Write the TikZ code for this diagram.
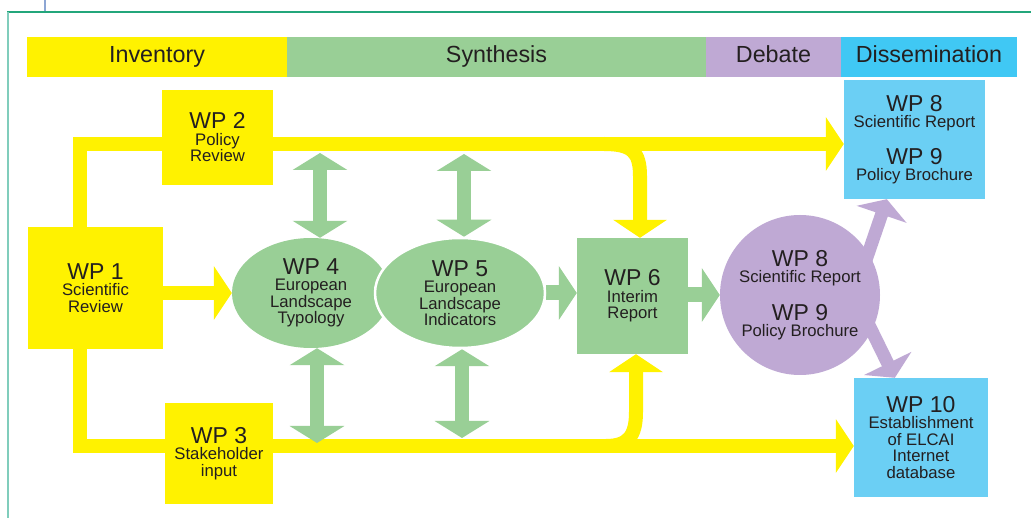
\documentclass[tikz,border=0pt]{standalone}
\usepackage{fontspec}
\setmainfont{Liberation Sans}
\usetikzlibrary{arrows.meta,shapes.geometric,calc}
\definecolor{wpyellow}{HTML}{FFF200}
\definecolor{wpgreen}{HTML}{99CF96}
\definecolor{wppurple}{HTML}{BFA9D4}
\definecolor{hdrblue}{HTML}{40C8F4}
\definecolor{boxblue}{HTML}{6BCFF4}
\definecolor{txt}{HTML}{231F20}
\definecolor{frameteal}{HTML}{23A67B}
\definecolor{framelight}{HTML}{80CDBC}
\definecolor{frameblue}{HTML}{8DA6D4}
\pgfdeclarelayer{bg}
\pgfsetlayers{bg,main}
\newcommand\wpbig[1]{{\fontsize{23}{23}\selectfont #1}}
\tikzset{
  hdr/.style={rectangle, minimum height=40pt, inner sep=0pt, text height=16.5pt, text depth=5pt, text=txt, font=\fontsize{23.3}{24}\selectfont},
  wpbox/.style={rectangle, inner sep=0pt, align=center, text=txt, font=\fontsize{16.7}{16.5}\selectfont},
  wpell/.style={ellipse, inner sep=0pt, align=center, text=txt, fill=wpgreen, font=\fontsize{16.7}{16.5}\selectfont},
  ytip/.style={-{Triangle[width=53pt,length=18pt]}},
  yarrow/.style={draw=wpyellow, line width=14pt, line join=miter, ytip},
  garrow/.style={draw=wpgreen, line width=15pt, -{Triangle[width=53pt,length=18pt]}},
  gdouble/.style={draw=wpgreen, line width=14pt, {Triangle[width=54pt,length=17pt]}-{Triangle[width=54pt,length=17pt]}},
  parrow/.style={draw=wppurple, line width=13pt, -{Triangle[width=52pt,length=16pt]}},
}
\begin{document}
\begin{tikzpicture}[x=1pt,y=-1pt]
\useasboundingbox (0,0) rectangle (1031,518);
\begin{pgfonlayer}{bg}
\fill[white] (0,0) rectangle (1031,518);
\end{pgfonlayer}
% frame
\draw[frameblue, line width=2pt] (45,0) -- (45,12);
\draw[frameteal, line width=1.4pt] (7,12) -- (1031,12);
\draw[framelight, line width=1.6pt] (8,12) -- (8,518);
% header bar
\node[hdr, fill=wpyellow, minimum width=260pt] (hinv) at (157,57) {Inventory};
\node[hdr, fill=wpgreen, minimum width=419pt] (hsyn) at (496.5,57) {Synthesis};
\node[hdr, fill=wppurple, minimum width=135pt] (hdeb) at (773.5,57) {Debate};
\node[hdr, fill=hdrblue, minimum width=176pt] (hdis) at (929,57) {Dissemination};
% work packages
\node[wpbox, fill=wpyellow, minimum width=135pt, minimum height=122pt] (wp1) at (95.5,288) {\wpbig{WP 1}\\Scientific\\Review};
\node[wpbox, fill=wpyellow, minimum width=111pt, minimum height=95pt] (wp2) at (217.5,137.5) {\wpbig{WP 2}\\Policy\\Review};
\node[wpbox, fill=wpyellow, minimum width=108pt, minimum height=101pt] (wp3) at (219,453.5) {\wpbig{WP 3}\\Stakeholder\\input};
\node[wpell, minimum width=158pt, minimum height=110pt] (wp4) at (311,293) {\wpbig{WP 4}\\European\\Landscape\\Typology};
\node[wpell, draw=white, line width=2.5pt, minimum width=170pt, minimum height=110pt] (wp5) at (460,293) {\wpbig{WP 5}\\European\\Landscape\\Indicators};
\node[wpbox, fill=wpgreen, minimum width=111pt, minimum height=116pt] (wp6) at (632.5,296) {\wpbig{WP 6}\\Interim\\Report};
\node[wpbox, circle, fill=wppurple, minimum size=160pt] (deb) at (800,295) {\wpbig{WP 8}\\Scientific Report\\[17pt]\wpbig{WP 9}\\Policy Brochure};
\node[wpbox, fill=boxblue, minimum width=141pt, minimum height=119pt] (wp89) at (914.5,139.5) {\wpbig{WP 8}\\Scientific Report\\[16pt]\wpbig{WP 9}\\Policy Brochure};
\node[wpbox, fill=boxblue, minimum width=134pt, minimum height=119pt] (wp10) at (921,437.5) {\wpbig{WP 10}\\Establishment\\of ELCAI\\Internet\\database};
% connectors
\coordinate (ytop) at (80,144);
\coordinate (ybot) at (80,446);
\coordinate (br1) at (640,176);
\coordinate (br2) at (636,412);
\coordinate (g1) at (320,153);
\coordinate (g2) at (317,443);
\coordinate (g3) at (464,154);
\coordinate (g4) at (462,438);
\coordinate (pu) at (866,260);
\coordinate (pd) at (866,319);
\begin{pgfonlayer}{bg}
\draw[yarrow] (wp1.north -| ytop) -- (ytop) -- (ytop -| wp89.west);
\draw[yarrow] (wp1.south -| ybot) -- (ybot) -- (ybot -| wp10.west);
\draw[yarrow] (604,144) .. controls (632,144) and (640,152) .. (br1) -- (br1 |- wp6.north);
\draw[yarrow] (606,446) .. controls (628,446) and (636,436) .. (br2) -- (br2 |- wp6.south);
\draw[yarrow] (wp1.east |- wp4.west) -- (wp4.west);
\draw[garrow] (wp5.east) -- (wp6.west |- wp5.east);
\draw[garrow] (wp6.east |- deb.west) -- (deb.west);
\draw[gdouble] (g1) -- (g1 |- wp4.north);
\draw[gdouble] (g2 |- wp4.south) -- (g2);
\draw[gdouble] (g3) -- (g3 |- wp5.north);
\draw[gdouble] (g4 |- wp5.south) -- (g4);
\draw[parrow] (pu) -- ($(wp89.south west)+(43,0)$);
\draw[parrow] (pd) -- ($(wp10.north west)+(41,0)$);
\end{pgfonlayer}
\end{tikzpicture}
\end{document}
